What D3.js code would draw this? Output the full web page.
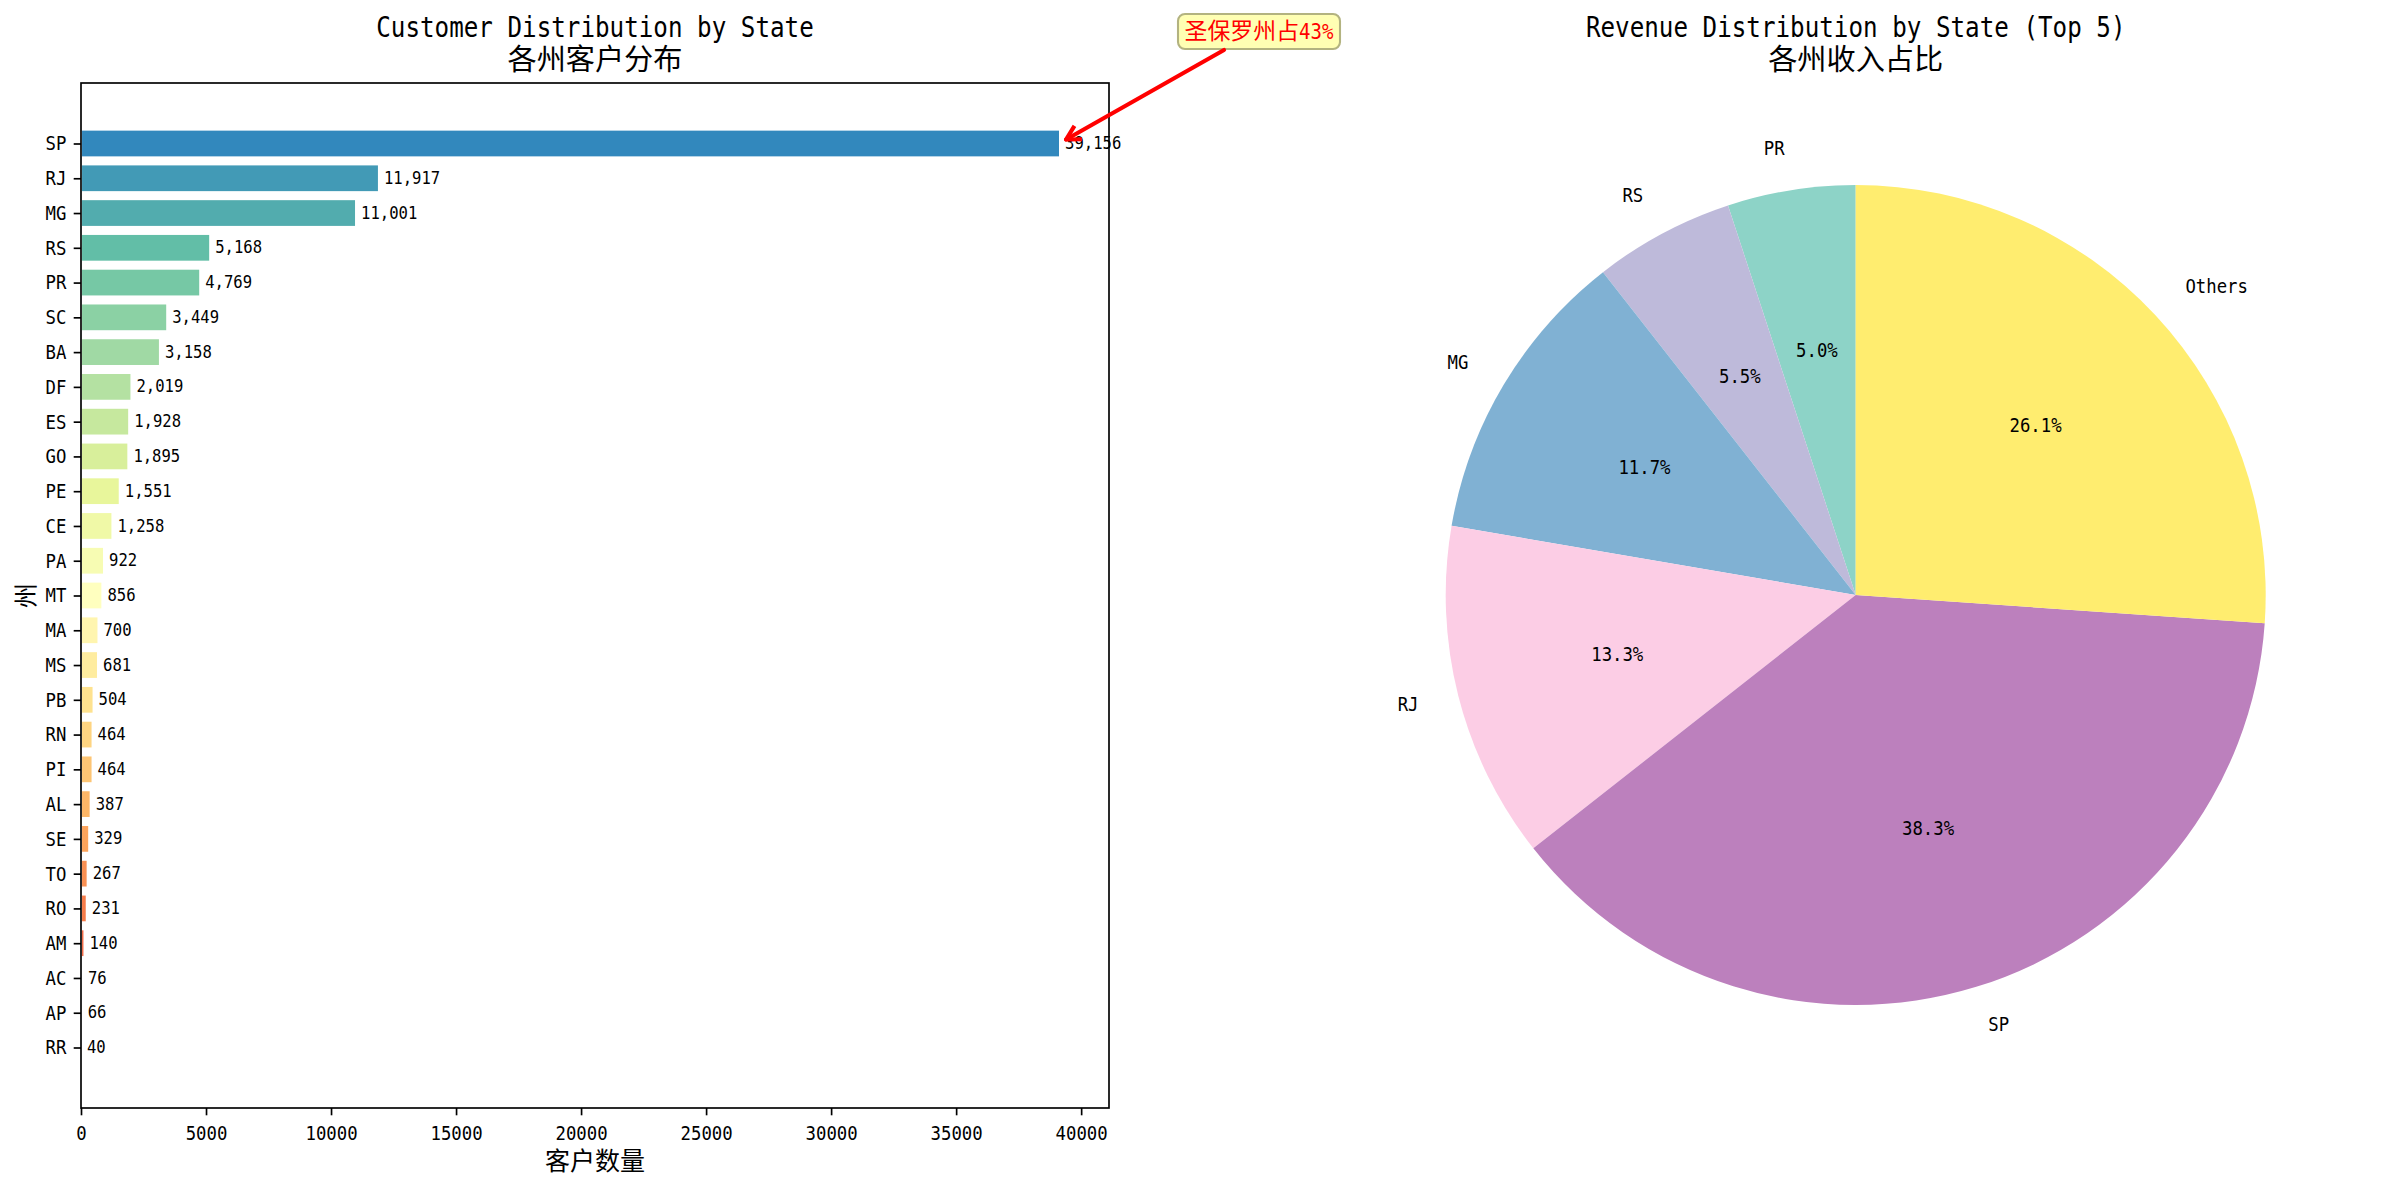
<!DOCTYPE html>
<html>
<head>
<meta charset="utf-8">
<script src="https://cdn.jsdelivr.net/npm/d3@7"></script>
<style>
  html, body { margin: 0; padding: 0; background: #fff; }
  svg { display: block; }
</style>
</head>
<body>
<script>
// Data
const states = ["SP","RJ","MG","RS","PR","SC","BA","DF","ES","GO","PE","CE","PA","MT","MA","MS","PB","RN","PI","AL","SE","TO","RO","AM","AC","AP","RR"];
const customers = [39156,11917,11001,5168,4769,3449,3158,2019,1928,1895,1551,1258,922,856,700,681,504,464,464,387,329,267,231,140,76,66,40];
const xTicks = [0,5000,10000,15000,20000,25000,30000,35000,40000];
const pieLabels = ["PR","RS","MG","RJ","SP","Others"];
const pieShares = [5.04,5.53,11.73,13.3,38.3,26.1];
const pieColors = ["#8dd3c7","#bebada","#80b1d3","#fccde5","#bc80bd","#ffed6f"];
const spectral = ["#9e0142","#d53e4f","#f46d43","#fdae61","#fee08b","#ffffbf","#e6f598","#abdda4","#66c2a5","#3288bd","#5e4fa2"];

const w = 2383, h = 1187;
const axLeft = 81, axRight = 1109, axTop = 83, axBottom = 1108;
const latin = "'DejaVu Sans Mono'", cjk = "'Noto Sans CJK SC'";

const svg = d3.select("body").append("svg").attr("width", w).attr("height", h);

// SimHei look: latin is half width, CJK is full width. "\n" starts a new line, 33px down
function label(parent, str, x, y, size, anchor) {
  const t = parent.append("text").attr("font-size", size).attr("fill", "#000").attr("xml:space", "preserve");
  const units = s => s.charCodeAt(0) < 128 ? s.length * 0.5 : s.length;
  str.split("\n").forEach((line, n) => {
    const runs = line.match(/[\x00-\x7f]+|[^\x00-\x7f]+/g);
    const total = d3.sum(runs, units) * size;
    const x0 = anchor === "middle" ? x - total / 2 : anchor === "end" ? x - total : x;
    runs.forEach((r, k) => {
      const span = t.append("tspan").text(r);
      if (k === 0) span.attr("x", x0).attr("y", y + n * 33 + size * 0.35);
      if (r.charCodeAt(0) < 128) {
        span.attr("font-family", latin).attr("font-size", size * 0.95)
          .attr("textLength", units(r) * size).attr("lengthAdjust", "spacingAndGlyphs");
      } else {
        span.attr("font-family", cjk);
      }
    });
  });
  return t;
}

// Scales
const xScale = d3.scaleLinear().domain([0, d3.max(customers) * 1.05]).range([axLeft, axRight]);
const yScale = d3.scaleLinear().domain([-1.74, states.length + 0.74]).range([axTop, axBottom]);
const tone = d3.scaleLinear().domain(d3.range(11).map(d => d / 10)).range(spectral);

// Bars
const barH = yScale(0.8) - yScale(0);
svg.selectAll("rect.bar")
  .data(customers)
  .enter()
  .append("rect")
  .attr("class", "bar")
  .attr("x", xScale(0))
  .attr("y", (d, i) => yScale(i) - barH / 2)
  .attr("width", d => xScale(d) - xScale(0))
  .attr("height", barH)
  .attr("fill", (d, i) => tone(0.9 - 0.8 * i / (states.length - 1)))
  .attr("stroke", "#fff")
  .attr("stroke-width", 2.08);

// Value labels
customers.forEach((d, i) => {
  label(svg, d3.format(",")(d), xScale(d + 200), yScale(i) - 1, 18.75, "start");
});

// Axes
function styleAxis(g) {
  g.selectAll("line").attr("stroke", "#000").attr("stroke-width", 1.67);
  g.selectAll("text").attr("font-family", latin).attr("font-size", 20).attr("fill", "#000")
    .attr("textLength", function () { return this.textContent.length * 10.42; })
    .attr("lengthAdjust", "spacingAndGlyphs");
}
const xAxis = d3.axisBottom(xScale).tickValues(xTicks).tickFormat(d3.format("d")).tickSize(7.3).tickPadding(10);
const yAxis = d3.axisLeft(yScale).tickValues(d3.range(states.length)).tickFormat(i => states[i]).tickSize(7.3).tickPadding(7.3);
svg.append("g").attr("transform", "translate(0," + axBottom + ")").call(xAxis).call(styleAxis).select(".domain").remove();
svg.append("g").attr("transform", "translate(" + axLeft + ",0)").call(yAxis).call(styleAxis).select(".domain").remove();

svg.append("rect").attr("x", axLeft).attr("y", axTop).attr("width", axRight - axLeft).attr("height", axBottom - axTop)
  .attr("fill", "none").attr("stroke", "#000").attr("stroke-width", 1.67);

// Titles
label(svg, "Customer Distribution by State\n各州客户分布", (axLeft + axRight) / 2, 27, 29.17, "middle");
label(svg, "客户数量", (axLeft + axRight) / 2, 1161, 25, "middle");
const yLab = svg.append("g").attr("transform", "translate(26," + (axTop + axBottom) / 2 + ") rotate(-90)");
label(yLab, "州", 0, 0, 25, "middle");

// Annotation
const tipX = xScale(customers[0]) + 6, tipY = yScale(0) - 4;
const fromX = 1224, fromY = 50;
const ang = Math.atan2(fromY - tipY, fromX - tipX);
const head = 16;
svg.append("rect").attr("x", 1178).attr("y", 14).attr("width", 162).attr("height", 35).attr("rx", 7)
  .attr("fill", "#ffffb3").attr("stroke", "#b3b380").attr("stroke-width", 2.08);
label(svg, "圣保罗州占43%", 1259, 31, 22.92, "middle").selectAll("tspan").attr("fill", "#ff0000");
svg.append("path")
  .attr("d", d3.line()([[fromX, fromY], [tipX, tipY]]))
  .attr("stroke", "#ff0000").attr("stroke-width", 4.17).attr("fill", "none").attr("stroke-linecap", "round");
svg.append("path")
  .attr("d", d3.line()([
    [tipX + head * Math.cos(ang + 0.5), tipY + head * Math.sin(ang + 0.5)],
    [tipX, tipY],
    [tipX + head * Math.cos(ang - 0.5), tipY + head * Math.sin(ang - 0.5)]
  ]))
  .attr("stroke", "#ff0000").attr("stroke-width", 4.17).attr("fill", "none").attr("stroke-linejoin", "round");

// Pie
const cx = 1855.7, cy = 595, radius = 410;
const pieGen = d3.pie().sort(null).startAngle(0).endAngle(-2 * Math.PI);
const slices = pieGen(pieShares);
const arc = d3.arc().innerRadius(0).outerRadius(radius);
const pieG = svg.append("g").attr("transform", "translate(" + cx + "," + cy + ")");
pieG.selectAll("path")
  .data(slices)
  .enter()
  .append("path")
  .attr("d", arc)
  .attr("fill", (d, i) => pieColors[i]);

slices.forEach((s, i) => {
  const mid = (s.startAngle + s.endAngle) / 2;
  const sx = Math.sin(mid), sy = -Math.cos(mid);
  label(pieG, pieLabels[i], 1.1 * radius * sx, 1.1 * radius * sy - 2, 20.83, sx > 0 ? "start" : "end");
  label(pieG, d3.format(".1f")(pieShares[i]) + "%", 0.6 * radius * sx, 0.6 * radius * sy - 2, 20.83, "middle");
});

label(svg, "Revenue Distribution by State (Top 5)\n各州收入占比", cx, 27, 29.17, "middle");
</script>
</body>
</html>
